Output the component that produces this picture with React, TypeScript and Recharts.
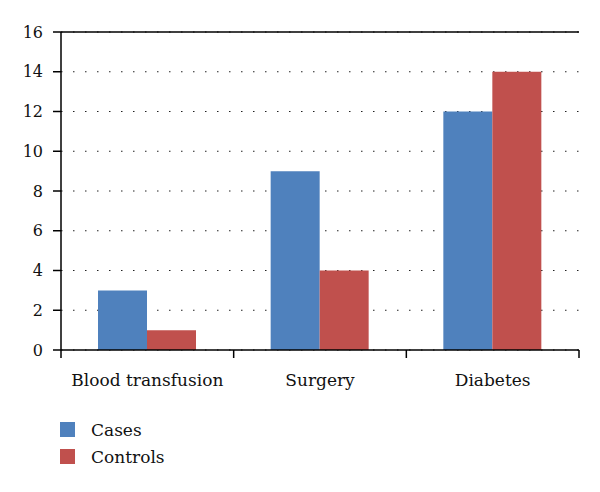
import { Bar, BarChart, CartesianGrid, ReferenceLine, XAxis, YAxis } from 'recharts'

const categories = ['Blood transfusion', 'Surgery', 'Diabetes']
const cases = [3, 9, 12]
const controls = [1, 4, 14]
const yTicks = [0, 2, 4, 6, 8, 10, 12, 14, 16]

const BLUE = '#4f81bd'
const RED = '#c0504d'
const FONT = '"DejaVu Serif", serif'
const TICK_MARGIN = 24

const data = categories.map((name, i) => ({ name, cases: cases[i], controls: controls[i] }))

const legendItems = [
  { name: 'Cases', color: BLUE },
  { name: 'Controls', color: RED },
]

// category label plus tick marks at the band edges (not at band centres)
function CategoryTick(props: any) {
  const { x, y, payload, index, visibleTicksCount } = props
  const half = payload.offset ?? 0
  const axisY = y - TICK_MARGIN
  const last = index === visibleTicksCount - 1
  return (
    <g>
      <line x1={x - half} x2={x - half} y1={axisY} y2={axisY + 8} stroke="#000" strokeWidth={1.5} />
      {last && <line x1={x + half} x2={x + half} y1={axisY} y2={axisY + 8} stroke="#000" strokeWidth={1.5} />}
      <text x={x} y={y} dy="0.71em" textAnchor="middle" fontSize={17} fill="#111" fontFamily={FONT}>
        {payload.value}
      </text>
    </g>
  )
}

export default function App() {
  return (
    <div style={{ position: 'absolute', left: 0, top: 0, width: 600, height: 492, background: '#fff', fontFamily: FONT }}>
      <BarChart
        width={600}
        height={410}
        data={data}
        margin={{ top: 32, right: 21, left: 0, bottom: 0 }}
        barGap={0}
        barCategoryGap={37}
      >
        <CartesianGrid vertical={false} stroke="#222" strokeDasharray="1.5 10.5" />
        <XAxis
          dataKey="name"
          height={60}
          interval={0}
          axisLine={{ stroke: '#000', strokeWidth: 1.5 }}
          tickLine={false}
          tickSize={0}
          tickMargin={TICK_MARGIN}
          tick={<CategoryTick />}
        />
        <YAxis
          domain={[0, 16]}
          ticks={yTicks}
          width={61}
          tickSize={8}
          tickMargin={10}
          tickLine={{ stroke: '#000', strokeWidth: 1.5 }}
          axisLine={{ stroke: '#000', strokeWidth: 1.5 }}
          tick={{ fontSize: 16, fill: '#111', fontFamily: FONT }}
        />
        <YAxis
          yAxisId="r"
          orientation="right"
          domain={[0, 16]}
          width={0}
          tick={false}
          tickLine={false}
          axisLine={{ stroke: '#000', strokeWidth: 1.5 }}
        />
        <ReferenceLine y={16} stroke="#000" strokeWidth={1.5} />
        <Bar dataKey="cases" name="Cases" fill={BLUE} isAnimationActive={false} />
        <Bar dataKey="controls" name="Controls" fill={RED} isAnimationActive={false} />
      </BarChart>
      <div style={{ position: 'absolute', left: 60, top: 416 }}>
        {legendItems.map((item) => (
          <div key={item.name} style={{ display: 'flex', alignItems: 'center', height: 27, fontSize: 17, color: '#111' }}>
            <span style={{ width: 15, height: 15, background: item.color, marginRight: 16 }} />
            {item.name}
          </div>
        ))}
      </div>
    </div>
  )
}
